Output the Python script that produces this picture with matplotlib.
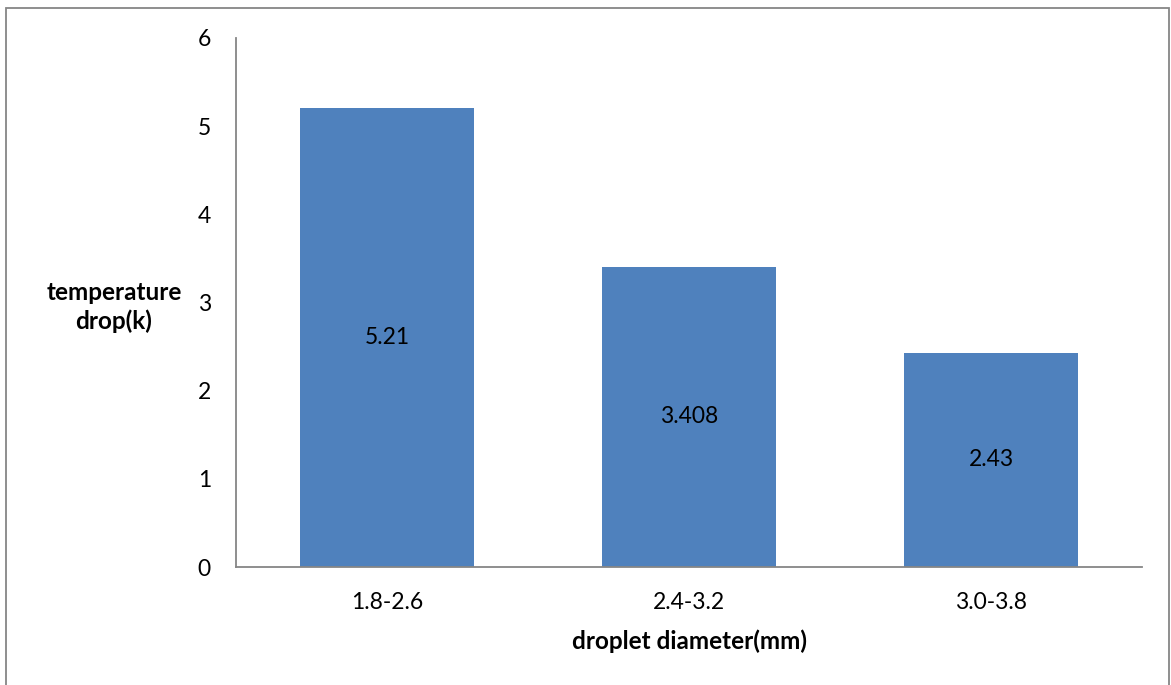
import numpy as np
import matplotlib.pyplot as plt
from matplotlib.patches import Rectangle

categories = ['1.8-2.6', '2.4-3.2', '3.0-3.8']
temp_drop = [5.21, 3.408, 2.43]
bar_labels = ['5.21', '3.408', '2.43']

plt.rcParams['font.family'] = ['Lato', 'DejaVu Sans']

fig = plt.figure(figsize=(11.71, 6.85), dpi=100)
ax = fig.add_axes([236 / 1171, 118 / 685, 906 / 1171, 529 / 685])

x = np.arange(len(categories))
bars = ax.bar(x, temp_drop, width=0.573, color='#4F81BD')

for b, lab in zip(bars, bar_labels):
    ax.text(b.get_x() + b.get_width() / 2, b.get_height() / 2, lab,
            ha='center', va='center', fontsize=16.5, color='black')

ax.set_xlim(-0.5, 2.5)
ax.set_ylim(0, 6)
ax.set_yticks(range(0, 7))
ax.set_xticks(x)
ax.set_xticklabels(categories)
ax.tick_params(axis='both', length=0, labelsize=16.5)
ax.tick_params(axis='y', pad=18)
ax.tick_params(axis='x', pad=18)

for s in ['top', 'right']:
    ax.spines[s].set_visible(False)
for s in ['left', 'bottom']:
    ax.spines[s].set_color('#868686')
    ax.spines[s].set_linewidth(1.3)

ax.set_xlabel('droplet diameter(mm)', fontsize=17.5, fontweight='bold',
              labelpad=12)
fig.text(114 / 1171, 1 - 307 / 685, 'temperature\ndrop(k)', fontsize=17.5,
         fontweight='bold', ha='center', va='center', linespacing=1.25)

fig.patches.append(Rectangle((6 / 1171, -0.01), 1163 / 1171, 1 - 8 / 685 + 0.01,
                             transform=fig.transFigure, fill=False,
                             edgecolor='#868686', linewidth=1.3))

fig.savefig('out.png', dpi=100)
